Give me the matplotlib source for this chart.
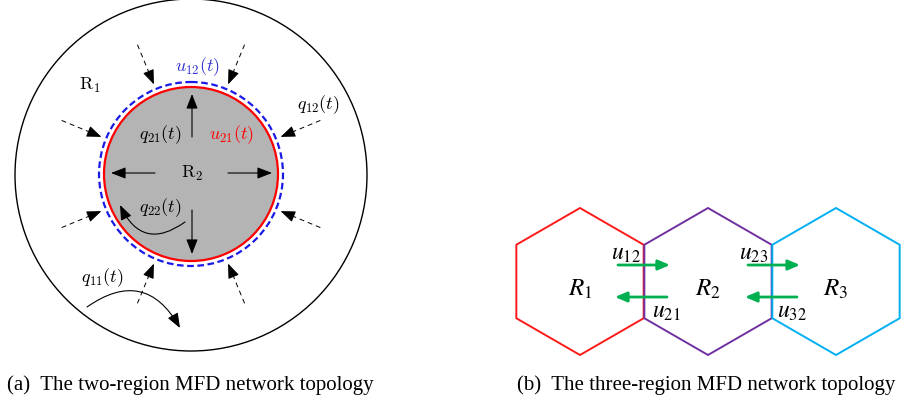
import numpy as np
import matplotlib.pyplot as plt
from matplotlib.patches import Circle, Polygon

# ---- left panel: two-region topology (pixel coords) ----
outer_center = (191, 175)
outer_r = 176
inner_r = 87
blue_r = 92

# dashed incoming arrows: angles in degrees (math convention)
dash_angles = [22.5, 67.5, 112.5, 157.5, 202.5, 247.5, 292.5, 337.5]
dash_r_start = 140
dash_r_end = 97

# solid arrows from centre outwards: (start, end)
inner_arrows = [((192, 137), (192, 94)), ((155, 173), (111, 173)),
                ((228, 173), (272, 173)), ((192, 210), (192, 254))]

left_labels = [(r'$\mathrm{R}_1$', 90, 85, 'black'),
               (r'$\mathrm{R}_2$', 192, 173, 'black'),
               (r'$u_{12}(t)$', 197, 67, '#3030d0'),
               (r'$u_{21}(t)$', 231, 135, 'red'),
               (r'$q_{21}(t)$', 160, 135, 'black'),
               (r'$q_{12}(t)$', 318, 105, 'black'),
               (r'$q_{22}(t)$', 160, 208, 'black'),
               (r'$q_{11}(t)$', 102, 278, 'black')]

# ---- right panel: three hexagons ----
hex_cx = [580, 708, 836]
hex_cy = 281.5
hex_r = 73.5
hex_colors = ['#ff1a1a', '#7030a0', '#00b0f0']
hex_names = [r'$R_1$', r'$R_2$', r'$R_3$']

green_arrows = [((618, 265), (670, 265)), ((667, 297), (615, 297)),
                ((748, 265), (800, 265)), ((797, 297), (745, 297))]
u_labels = [(r'$u_{12}$', 626, 253), (r'$u_{21}$', 666, 311),
            (r'$u_{23}$', 754, 253), (r'$u_{32}$', 792, 311)]

captions = [('(a)  The two-region MFD network topology', 7),
            ('(b)  The three-region MFD network topology', 517)]

fig = plt.figure(figsize=(9.01, 4.01), dpi=100)
ax = fig.add_axes([0, 0, 1, 1])
ax.set_xlim(0, 901)
ax.set_ylim(401, 0)
ax.axis('off')

head = '-|>,head_length=0.9,head_width=0.35'

ax.add_patch(Circle(outer_center, outer_r, fill=False, ec='black', lw=1.0))
ax.add_patch(Circle((191, 174), inner_r, fc='#b4b4b4', ec='red', lw=1.6, zorder=2))
ax.add_patch(Circle((191, 174), blue_r, fill=False, ec='#1a1ae6', lw=1.6,
                    ls=(0, (3, 1.6)), zorder=2))

for a in dash_angles:
    t = np.radians(a)
    x0 = 191 + dash_r_start * np.cos(t)
    y0 = 174 - dash_r_start * np.sin(t)
    x1 = 191 + dash_r_end * np.cos(t)
    y1 = 174 - dash_r_end * np.sin(t)
    ax.plot([x0, x1], [y0, y1], color='black', lw=0.7, ls=(0, (5, 4)))
    xm = 191 + (dash_r_end + 10) * np.cos(t)
    ym = 174 - (dash_r_end + 10) * np.sin(t)
    ax.annotate('', xy=(x1, y1), xytext=(xm, ym),
                arrowprops=dict(arrowstyle=head, color='black', lw=0.7,
                                mutation_scale=10, shrinkA=0, shrinkB=0))

for s, e in inner_arrows:
    ax.annotate('', xy=e, xytext=s, zorder=3,
                arrowprops=dict(arrowstyle=head, color='black', lw=0.8,
                                mutation_scale=10, shrinkA=0, shrinkB=0))

# curved arrows q22 and q11
ax.annotate('', xy=(120, 205), xytext=(185, 222), zorder=3,
            arrowprops=dict(arrowstyle=head, color='black', lw=0.8, mutation_scale=10,
                            shrinkA=0, shrinkB=0, connectionstyle='arc3,rad=-0.6'))
ax.annotate('', xy=(180, 328), xytext=(87, 307), zorder=3,
            arrowprops=dict(arrowstyle=head, color='black', lw=0.8, mutation_scale=10,
                            shrinkA=0, shrinkB=0, connectionstyle='arc3,rad=-0.55'))

for txt, x, y, c in left_labels:
    ax.text(x, y, txt, color=c, fontsize=13, ha='center', va='center',
            math_fontfamily='cm', zorder=4)

# hexagons
for cx, col, name in zip(hex_cx, hex_colors, hex_names):
    ang = np.radians(np.arange(90, 450, 60))
    pts = np.column_stack([cx + hex_r * np.cos(ang), hex_cy - hex_r * np.sin(ang)])
    ax.add_patch(Polygon(pts, closed=True, fill=False, ec=col, lw=1.4))
    ax.text(cx, 289, name, fontsize=18, ha='center', va='center', math_fontfamily='stix')

for s, e in green_arrows:
    ax.annotate('', xy=e, xytext=s, zorder=3,
                arrowprops=dict(arrowstyle='-|>,head_length=0.7,head_width=0.3',
                                color='#00b050', lw=2.0, mutation_scale=10,
                                shrinkA=0, shrinkB=0))

for txt, x, y in u_labels:
    ax.text(x, y, txt, fontsize=17, ha='center', va='center', math_fontfamily='stix')

for txt, x in captions:
    ax.text(x, 385, txt, fontsize=15, ha='left', va='center', family='Liberation Serif')

fig.savefig('out.png', dpi=100)
